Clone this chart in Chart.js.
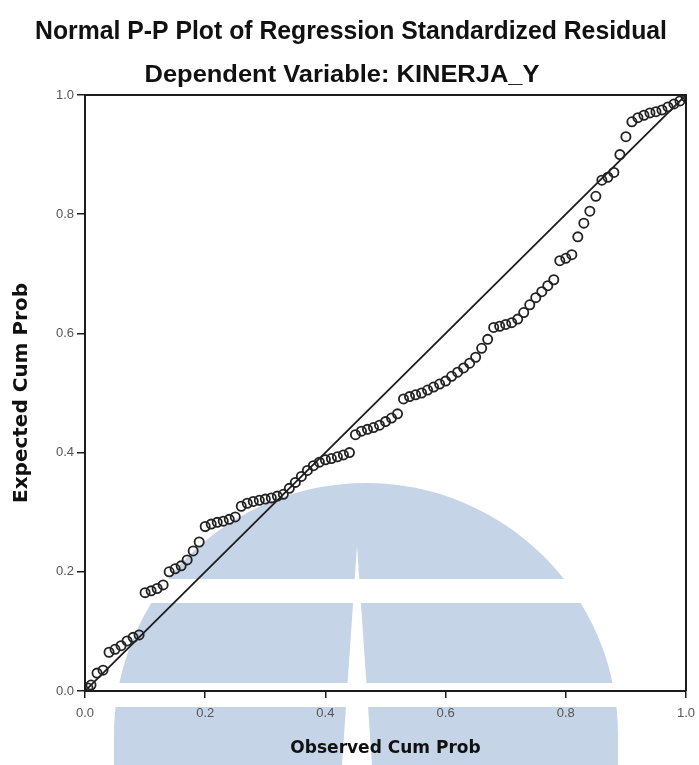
<!DOCTYPE html>
<html>
<head>
<meta charset="utf-8">
<script src="https://cdn.jsdelivr.net/npm/chart.js@4.4.1/dist/chart.umd.min.js"></script>
<style>
  html, body { margin: 0; padding: 0; background: #fff; }
  #wrap { width: 699px; height: 765px; }
</style>
</head>
<body>
<div id="wrap"><canvas id="pp"></canvas></div>
<script>
// P-P plot values
const observedCum = [
  0.005, 0.01, 0.02, 0.03, 0.04, 0.05, 0.06, 0.07, 0.08, 0.09,
  0.10, 0.11, 0.12, 0.13, 0.14, 0.15, 0.16, 0.17, 0.18, 0.19,
  0.20, 0.21, 0.22, 0.23, 0.24, 0.25, 0.26, 0.27, 0.28, 0.29,
  0.30, 0.31, 0.32, 0.33, 0.34, 0.35, 0.36, 0.37, 0.38, 0.39,
  0.40, 0.41, 0.42, 0.43, 0.44, 0.45, 0.46, 0.47, 0.48, 0.49,
  0.50, 0.51, 0.52, 0.53, 0.54, 0.55, 0.56, 0.57, 0.58, 0.59,
  0.60, 0.61, 0.62, 0.63, 0.64, 0.65, 0.66, 0.67, 0.68, 0.69,
  0.70, 0.71, 0.72, 0.73, 0.74, 0.75, 0.76, 0.77, 0.78, 0.79,
  0.80, 0.81, 0.82, 0.83, 0.84, 0.85, 0.86, 0.87, 0.88, 0.89,
  0.90, 0.91, 0.92, 0.93, 0.94, 0.95, 0.96, 0.97, 0.98, 0.99, 1.00
];
const expectedCum = [
  0.005, 0.010, 0.030, 0.035, 0.065, 0.070, 0.076, 0.084, 0.090, 0.094,
  0.165, 0.168, 0.172, 0.178, 0.200, 0.205, 0.210, 0.220, 0.235, 0.250,
  0.276, 0.280, 0.283, 0.285, 0.288, 0.292, 0.310, 0.315, 0.318, 0.320,
  0.322, 0.324, 0.327, 0.330, 0.340, 0.350, 0.360, 0.370, 0.378, 0.384,
  0.388, 0.390, 0.393, 0.396, 0.400, 0.430, 0.436, 0.439, 0.442, 0.446,
  0.452, 0.458, 0.465, 0.490, 0.494, 0.497, 0.500, 0.505, 0.510, 0.515,
  0.520, 0.528, 0.535, 0.542, 0.550, 0.560, 0.575, 0.590, 0.610, 0.612,
  0.615, 0.618, 0.624, 0.635, 0.648, 0.660, 0.670, 0.680, 0.690, 0.722,
  0.726, 0.732, 0.762, 0.785, 0.805, 0.830, 0.857, 0.862, 0.870, 0.900,
  0.930, 0.955, 0.962, 0.966, 0.970, 0.972, 0.975, 0.980, 0.985, 0.990, 0.997
];
const diagonal = [0, 1];
const tickValues = [0, 0.2, 0.4, 0.6, 0.8, 1.0];

const chartTitle = 'Normal P-P Plot of Regression Standardized Residual';
const chartSubtitle = 'Dependent Variable: KINERJA_Y';

const INK = '#1c1c1c';

// faint logo shape behind the plot
const watermark = {
  id: 'watermark',
  beforeDraw(chart) {
    const ctx = chart.ctx;
    ctx.save();
    ctx.fillStyle = '#ffffff';
    ctx.fillRect(0, 0, chart.width, chart.height);
    ctx.beginPath();
    ctx.arc(366, 735, 252, Math.PI, 2 * Math.PI);
    ctx.lineTo(618, 765);
    ctx.lineTo(114, 765);
    ctx.closePath();
    ctx.fillStyle = '#c6d4e7';
    ctx.fill();
    ctx.fillStyle = '#ffffff';
    ctx.fillRect(0, 579, chart.width, 24);
    ctx.fillRect(0, 683, chart.width, 24);
    ctx.beginPath();
    ctx.moveTo(357, 546);
    ctx.lineTo(372, 765);
    ctx.lineTo(342, 765);
    ctx.closePath();
    ctx.fill();
    ctx.restore();
  }
};

// frame + squeezed headings like the original export
const frameAndTitles = {
  id: 'frameAndTitles',
  afterDraw(chart) {
    const { ctx, chartArea: a } = chart;
    ctx.save();
    ctx.strokeStyle = INK;
    ctx.lineWidth = 2;
    ctx.beginPath();
    ctx.moveTo(a.left, a.top);
    ctx.lineTo(a.right, a.top);
    ctx.lineTo(a.right, a.bottom);
    ctx.stroke();

    const squeezed = (text, font, cx, baseline, width) => {
      ctx.font = font;
      const w = ctx.measureText(text).width;
      ctx.save();
      ctx.translate(cx, baseline);
      ctx.scale(width / w, 1);
      ctx.textAlign = 'center';
      ctx.textBaseline = 'alphabetic';
      ctx.fillStyle = '#111';
      ctx.fillText(text, 0, 0);
      ctx.restore();
    };
    squeezed(chartTitle, 'bold 26px "Liberation Sans", Arial, sans-serif', 351, 39, 632);
    squeezed(chartSubtitle, 'bold 24px "Liberation Sans", Arial, sans-serif', 342, 82, 395);
    ctx.restore();
  }
};

const ctx = document.getElementById('pp').getContext('2d');
new Chart(ctx, {
  type: 'scatter',
  data: {
    datasets: [
      {
        label: 'Residual',
        data: observedCum.map((x, i) => ({ x, y: expectedCum[i] })),
        pointStyle: 'circle',
        pointRadius: 4.6,
        pointBorderWidth: 1.8,
        borderColor: '#222',
        backgroundColor: 'rgba(0,0,0,0)'
      },
      {
        type: 'line',
        label: 'Diagonal',
        data: diagonal.map(v => ({ x: v, y: v })),
        borderColor: INK,
        borderWidth: 1.8,
        pointRadius: 0,
        fill: false
      }
    ]
  },
  options: {
    responsive: true,
    maintainAspectRatio: false,
    animation: false,
    layout: { padding: { top: 95, right: 13, left: 0, bottom: 0 } },
    plugins: {
      legend: { display: false },
      title: { display: false },
      tooltip: { enabled: false }
    },
    scales: {
      x: {
        type: 'linear',
        min: 0,
        max: 1,
        afterFit: s => { s.height = 74; s.paddingLeft = 0; s.paddingRight = 0; },
        afterBuildTicks: s => { s.ticks = tickValues.map(v => ({ value: v })); },
        grid: { display: true, drawOnChartArea: false, drawTicks: true, tickLength: 7, color: INK, lineWidth: 1.5 },
        border: { display: true, color: INK, width: 2 },
        ticks: {
          color: '#555',
          font: { family: '"Liberation Sans", Arial, sans-serif', size: 13 },
          padding: 8,
          maxRotation: 0,
          callback: v => v.toFixed(1)
        },
        title: {
          display: true,
          text: 'Observed Cum Prob',
          color: '#111',
          font: { family: '"DejaVu Sans", Verdana, sans-serif', size: 17, weight: 'bold' },
          padding: { top: 0, bottom: 6 }
        }
      },
      y: {
        type: 'linear',
        min: 0,
        max: 1,
        afterFit: s => { s.width = 85; s.paddingTop = 0; s.paddingBottom = 0; },
        afterBuildTicks: s => { s.ticks = tickValues.map(v => ({ value: v })); },
        grid: { display: true, drawOnChartArea: false, drawTicks: true, tickLength: 8, color: INK, lineWidth: 1.5 },
        border: { display: true, color: INK, width: 2 },
        ticks: {
          color: '#555',
          font: { family: '"Liberation Sans", Arial, sans-serif', size: 13 },
          padding: 3,
          callback: v => v.toFixed(1)
        },
        title: {
          display: true,
          text: 'Expected Cum Prob',
          color: '#111',
          font: { family: '"DejaVu Sans", Verdana, sans-serif', size: 20, weight: 'bold' },
          padding: { top: 10, bottom: 0 }
        }
      }
    }
  },
  plugins: [watermark, frameAndTitles]
});
</script>
</body>
</html>
